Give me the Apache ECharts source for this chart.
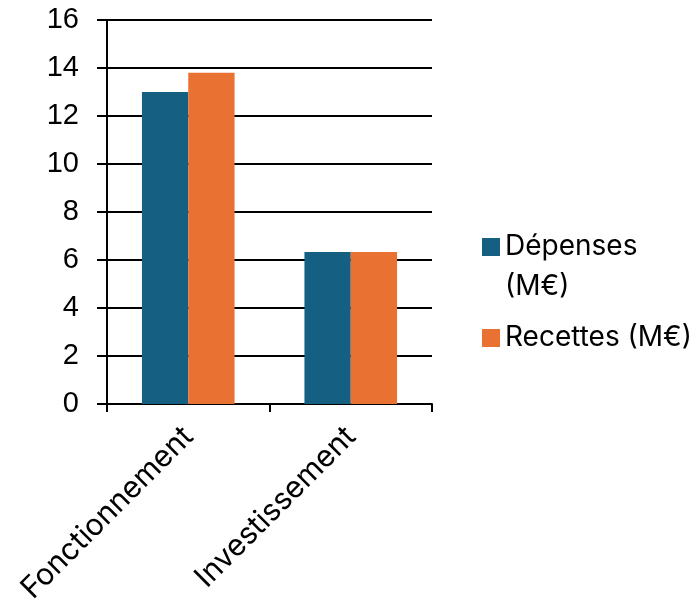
<!DOCTYPE html>
<html>
<head>
<meta charset="utf-8">
<script src="https://cdn.jsdelivr.net/npm/echarts@6/dist/echarts.min.js"></script>
<style>html,body{margin:0;padding:0;background:#fff;}#c{width:700px;height:607px;}</style>
</head>
<body>
<div id="c"></div>
<script>
const categories = ['Fonctionnement', 'Investissement'];
const seriesNames = ['Dépenses (M€)', 'Recettes (M€)'];
const depenses = [13.0, 6.33];
const recettes = [13.8, 6.33];
const yTicks = { min: 0, max: 16, interval: 2 };

const chart = echarts.init(document.getElementById('c'), null, { renderer: 'canvas' });
const axisFont = '"Liberation Sans", Arial, sans-serif';
const legendFont = 'Inter, "Noto Sans", sans-serif';
chart.setOption({
  backgroundColor: '#ffffff',
  animation: false,
  grid: { left: 107, right: 268, top: 20, bottom: 203, containLabel: false },
  legend: {
    orient: 'vertical',
    left: 477,
    top: 182,
    itemWidth: 18,
    itemHeight: 18,
    itemGap: 11,
    icon: 'rect',
    textStyle: { fontFamily: legendFont, fontSize: 28, color: '#000', lineHeight: 40 },
    data: [seriesNames[0], seriesNames[1]],
    formatter: function (n) { return n === seriesNames[0] ? '\u00a0\nDépenses\n(M€)' : n; }
  },
  xAxis: {
    type: 'category',
    data: categories,
    axisLine: { lineStyle: { color: '#000', width: 2 } },
    axisTick: { show: true, length: 8, lineStyle: { color: '#000', width: 2 }, alignWithLabel: false },
    axisLabel: { rotate: 45, fontSize: 30, fontFamily: legendFont, color: '#000', margin: 28 }
  },
  yAxis: {
    type: 'value',
    min: yTicks.min, max: yTicks.max, interval: yTicks.interval,
    axisLine: { show: true, lineStyle: { color: '#000', width: 2 } },
    axisTick: { show: true, length: 10, lineStyle: { color: '#000', width: 2 } },
    splitLine: { show: true, lineStyle: { color: '#000', width: 2 } },
    axisLabel: { fontSize: 29, fontFamily: axisFont, color: '#000', margin: 28 }
  },
  series: [
    { name: seriesNames[0], type: 'bar', data: depenses, itemStyle: { color: '#156082' }, barGap: '0%', barCategoryGap: '43%' },
    { name: seriesNames[1], type: 'bar', data: recettes, itemStyle: { color: '#E97132' }, barGap: '0%', barCategoryGap: '43%' }
  ]
});
</script>
</body>
</html>
